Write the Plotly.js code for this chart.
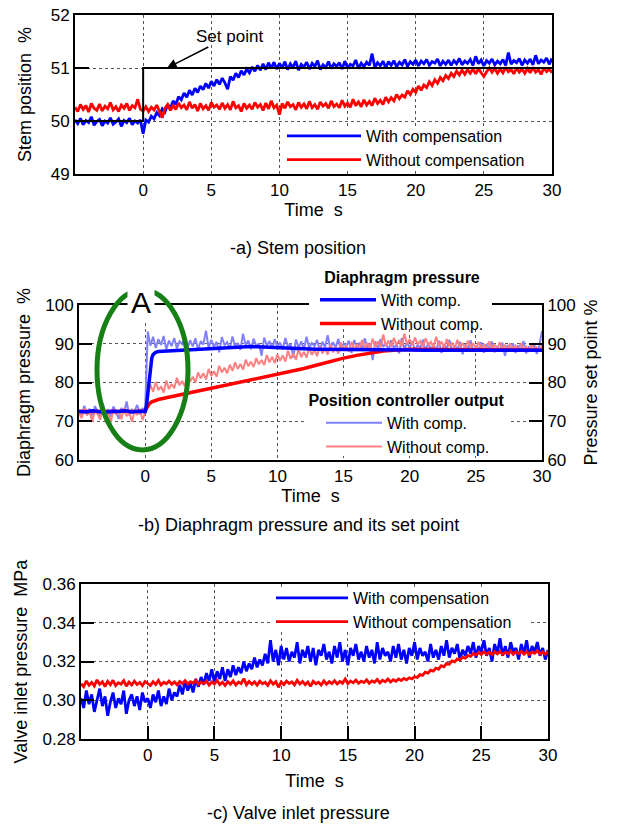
<!DOCTYPE html>
<html><head><meta charset="utf-8">
<script src="https://cdn.plot.ly/plotly-3.0.1.min.js"></script>
<style>html,body{margin:0;padding:0;background:#fff}#chart{width:618px;height:825px}</style>
</head><body><div id="chart"></div>
<script>
// ---- sampling of the recorded signals (seconds) ----
const T0 = -5, DT = 0.2;
const xTicks = [0, 5, 10, 15, 20, 25, 30];

// ---- (a) Stem position, % ----
const stemWith = [
50.02,49.95,50.05,49.93,50.01,49.97,50.08,49.92,49.99,50.03,49.91,50.00,49.96,50.06,49.94,49.98,50.04,49.90,50.01,49.97,50.05,49.93,50.00,49.96,50.02,
49.76,
50.02,49.98,50.09,50.04,50.16,50.10,50.23,50.17,50.31,50.24,
50.38,50.31,50.46,50.40,50.53,50.45,50.58,50.49,50.62,50.54,
50.66,50.59,50.71,50.62,50.75,50.66,50.78,50.69,50.81,50.72,
50.60,50.84,50.77,50.90,50.82,50.95,50.87,50.98,50.91,51.02,
50.94,51.05,50.96,51.08,50.97,51.10,50.99,51.11,50.98,51.09,
51.00,51.12,50.97,51.08,51.01,51.13,50.96,51.07,51.02,51.11,
50.98,51.09,51.03,51.14,50.97,51.06,51.01,51.12,50.99,51.08,
51.03,51.10,50.98,51.13,51.00,51.07,51.04,51.15,50.99,51.09,
51.02,51.11,51.05,51.27,51.01,51.10,51.04,51.13,51.00,51.12,
51.05,51.14,51.02,51.11,51.06,51.16,51.03,51.12,51.07,51.15,
51.04,51.13,51.08,51.16,51.05,51.12,51.09,51.17,51.04,51.13,
51.07,51.15,51.05,51.14,51.08,51.18,51.06,51.13,51.09,51.16,
51.05,51.22,51.08,51.15,51.04,51.14,51.09,51.17,51.06,51.13,
51.08,51.16,51.05,51.29,51.07,51.14,51.10,51.18,51.05,51.15,
51.09,51.17,51.06,51.24,51.08,51.15,51.11,51.19,51.07,51.18];
const stemWithout = [
50.26,50.18,50.31,50.22,50.29,50.17,50.33,50.24,50.20,50.32,50.19,50.28,50.23,50.35,50.21,50.27,50.18,50.30,50.24,50.33,50.20,50.29,50.25,50.41,50.22,
50.19,
50.27,50.18,50.26,50.21,50.30,50.19,50.06,50.24,50.31,50.20,
50.29,50.22,50.34,50.25,50.30,50.21,50.36,50.24,50.31,50.19,
50.33,50.23,50.29,50.20,50.35,50.26,50.30,50.22,50.34,50.24,
50.31,50.21,50.37,50.25,50.29,50.18,50.33,50.24,50.30,50.22,
50.35,50.26,50.31,50.20,50.34,50.23,50.38,50.25,50.30,50.12,
50.33,50.24,50.36,50.27,50.31,50.21,50.35,50.26,50.32,50.23,
50.37,50.25,50.31,50.22,50.36,50.28,50.33,50.24,50.38,50.27,
50.32,50.25,50.39,50.28,50.34,50.26,50.41,50.29,50.36,50.27,
50.40,50.30,50.37,50.29,50.43,50.33,50.39,50.31,50.45,50.36,
50.44,50.38,50.50,50.42,50.49,50.45,50.57,50.50,50.60,50.54,
50.66,50.58,50.68,50.63,50.74,50.67,50.78,50.71,50.82,50.76,
50.86,50.80,50.90,50.84,50.94,50.87,50.96,50.88,50.97,50.90,
50.98,50.89,50.99,50.91,50.84,50.93,51.00,50.92,50.99,50.90,
50.98,50.91,51.01,50.93,50.97,50.89,51.00,50.92,50.98,50.90,
50.99,50.91,51.01,50.92,50.97,50.88,51.00,50.93,50.98,50.91];
const setPointX = [-5, 0, 0, 30];
const setPointY = [50, 50, 51, 51];

// ---- (b) Position controller output (= pressure set point), % ----
const posWith = [
72.8,71.6,74.0,72.1,73.2,70.9,73.9,72.4,71.3,74.6,72.0,73.1,71.2,73.8,72.5,70.6,73.4,72.2,75.1,71.5,73.0,72.6,74.2,71.8,73.3,
73.0,
93.2,89.5,91.8,88.9,91.2,89.7,92.0,88.6,90.8,89.4,
91.5,88.8,90.6,89.9,92.3,88.7,90.9,89.3,91.4,88.5,
90.7,89.8,93.4,88.9,91.0,89.2,90.5,87.8,91.7,89.6,
90.4,88.7,91.9,89.3,90.2,88.4,92.6,89.7,90.8,88.6,
91.3,89.4,90.1,86.9,91.6,89.5,90.7,88.8,91.2,89.1,
90.3,88.6,91.5,89.2,90.0,86.4,91.1,89.0,90.6,88.5,
91.8,88.9,90.2,89.4,91.0,88.3,90.5,89.1,92.2,88.7,
90.4,89.0,91.3,88.2,90.1,89.3,90.8,87.6,91.0,88.9,
90.3,88.4,91.4,89.0,90.0,85.8,90.6,88.7,91.2,89.2,
90.1,88.3,90.9,88.8,89.9,87.5,91.5,88.6,90.2,89.0,
90.7,88.1,89.8,88.9,91.1,87.9,90.3,88.5,89.7,88.2,
90.8,87.6,89.9,88.7,91.0,88.0,89.6,88.4,90.5,87.3,
89.8,88.6,90.9,87.9,89.5,88.3,90.4,87.7,89.9,88.5,
90.6,87.8,89.4,88.2,90.3,86.9,89.7,88.4,90.1,87.6,
89.6,88.3,90.7,87.5,89.3,88.1,90.0,87.4,89.5,93.3];
const posWithout = [
72.1,70.8,73.3,71.5,72.6,69.8,73.0,71.9,70.4,73.6,71.2,72.4,69.6,73.1,71.7,72.8,70.5,73.4,71.3,72.2,69.9,72.7,71.6,73.2,70.3,
72.3,
77.2,79.4,77.6,80.1,78.0,79.0,77.4,80.5,78.3,79.6,
78.5,81.2,79.3,80.4,79.0,82.1,80.2,81.5,80.0,82.6,
81.1,82.4,80.8,83.5,81.7,82.9,81.5,84.3,82.6,83.8,
82.4,84.6,83.0,85.2,83.5,84.8,83.3,85.9,84.2,85.4,
84.0,86.3,84.7,85.8,84.5,87.1,85.2,86.6,85.0,87.3,
85.6,87.0,85.4,88.2,86.1,87.5,85.9,88.6,86.5,87.9,
86.4,89.0,87.1,88.4,86.8,89.5,87.5,88.9,87.2,89.8,
87.8,89.2,87.5,90.3,88.2,89.6,88.0,90.5,88.6,89.9,
88.4,91.0,88.9,90.2,88.7,91.3,89.2,90.6,89.0,92.4,
89.4,90.8,89.1,91.5,89.6,90.9,89.3,92.6,89.8,91.2,
89.5,91.6,89.9,90.7,89.2,91.4,89.7,90.5,89.0,91.8,
89.4,90.6,88.9,91.2,89.3,90.3,88.8,91.0,89.1,90.2,
88.7,90.8,89.0,90.1,88.6,90.5,88.9,89.8,88.4,90.6,
88.8,89.9,88.3,90.4,88.7,89.6,88.2,90.1,88.6,89.5,
88.1,90.2,88.5,89.3,87.9,90.0,88.4,89.1,88.0,89.7];
// ---- (b) Diaphragm pressure, % ----
const diaWithX = [-5,-4.5,-4,-3.5,-3,-2.5,-2,-1.5,-1,-0.5,0,0.1,0.2,0.3,0.4,0.5,0.6,0.8,1,
  1.5,2,2.5,3,3.5,4,4.5,5,5.5,6,6.5,7,7.5,8,8.5,9,9.5,10,
  11,12,13,14,15,16,17,18,19,20,21,22,23,24,25,26,27,28,29,30];
const diaWith = [72.6,72.4,72.7,72.5,72.3,72.6,72.5,72.7,72.4,72.6,72.5,74.0,77.5,81.5,84.5,86.3,87.2,87.8,88.0,
  88.1,88.2,88.2,88.3,88.4,88.5,88.6,88.7,88.9,89.0,89.1,89.2,89.3,89.3,89.2,89.1,89.0,88.9,
  88.8,88.7,88.6,88.6,88.5,88.5,88.4,88.5,88.4,88.4,88.3,88.4,88.3,88.3,88.4,88.3,88.3,88.4,88.3,88.3];
const diaWithoutX = [-5,-4,-3,-2,-1,0,0.1,0.2,0.3,0.5,0.7,1,1.5,2,
  3,4,5,6,7,8,9,10,11,12,13,14,15,16,17,18,19,20,22,24,26,28,30];
const diaWithout = [72.5,72.5,72.5,72.5,72.5,72.6,73.3,74.0,74.5,75.0,75.3,75.6,76.0,76.4,
  77.1,77.8,78.5,79.2,79.9,80.6,81.3,82.0,82.8,83.6,84.5,85.5,86.3,87.0,87.6,88.1,88.4,88.6,88.5,88.4,88.3,88.3,88.3];

// ---- (c) Valve inlet pressure, MPa ----
const valveWith = [
0.301,0.296,0.305,0.298,0.303,0.294,0.300,0.306,0.297,0.302,0.292,0.299,0.304,0.296,0.301,0.298,0.305,0.293,0.300,0.303,0.297,0.302,0.295,0.304,0.299,
0.301,
0.296,0.303,0.299,0.305,0.297,0.302,0.298,0.306,0.300,0.304,
0.302,0.308,0.303,0.310,0.305,0.309,0.304,0.311,0.307,0.312,
0.308,0.314,0.310,0.316,0.309,0.315,0.311,0.317,0.310,0.316,
0.312,0.318,0.313,0.317,0.314,0.320,0.315,0.319,0.316,0.322,
0.317,0.321,0.318,0.324,0.319,0.331,0.320,0.326,0.318,0.328,
0.321,0.327,0.320,0.325,0.322,0.330,0.319,0.326,0.322,0.328,
0.320,0.327,0.318,0.326,0.323,0.329,0.321,0.325,0.319,0.328,
0.322,0.330,0.320,0.326,0.318,0.327,0.323,0.329,0.321,0.325,
0.320,0.328,0.322,0.326,0.319,0.330,0.321,0.327,0.323,0.325,
0.320,0.328,0.322,0.329,0.321,0.326,0.319,0.327,0.323,0.330,
0.321,0.327,0.323,0.325,0.320,0.329,0.322,0.326,0.321,0.328,
0.323,0.331,0.322,0.327,0.324,0.329,0.321,0.326,0.323,0.328,
0.324,0.330,0.322,0.328,0.325,0.331,0.323,0.327,0.320,0.329,
0.324,0.332,0.323,0.328,0.322,0.330,0.325,0.327,0.321,0.329,
0.324,0.331,0.322,0.328,0.325,0.330,0.323,0.327,0.321,0.326];
const valveWithout = [
0.3085,0.3070,0.3100,0.3078,0.3092,0.3074,0.3105,0.3082,0.3095,0.3071,0.3098,0.3080,0.3103,0.3076,0.3090,0.3083,0.3101,0.3073,0.3094,0.3079,0.3099,0.3081,0.3092,0.3075,0.3097,
0.3084,
0.3076,0.3096,0.3081,0.3102,0.3079,0.3093,0.3085,0.3099,0.3083,0.3095,
0.3080,0.3097,0.3086,0.3101,0.3084,0.3096,0.3089,0.3103,0.3082,0.3094,
0.3086,0.3099,0.3078,0.3095,0.3084,0.3102,0.3081,0.3093,0.3076,0.3096,
0.3083,0.3100,0.3079,0.3094,0.3086,0.3112,0.3080,0.3097,0.3082,0.3095,
0.3078,0.3098,0.3085,0.3093,0.3077,0.3101,0.3083,0.3096,0.3067,0.3094,
0.3081,0.3099,0.3086,0.3095,0.3079,0.3103,0.3084,0.3097,0.3080,0.3094,
0.3072,0.3098,0.3085,0.3093,0.3079,0.3100,0.3083,0.3096,0.3086,0.3101,
0.3084,0.3097,0.3088,0.3110,0.3085,0.3099,0.3090,0.3104,0.3087,0.3098,
0.3091,0.3105,0.3088,0.3100,0.3093,0.3108,0.3090,0.3103,0.3095,0.3109,
0.3094,0.3106,0.3098,0.3110,0.3102,0.3113,0.3105,0.3116,0.3110,0.3121,
0.3118,0.3132,0.3128,0.3145,0.3140,0.3155,0.3150,0.3166,0.3160,0.3178,
0.3173,0.3190,0.3186,0.3203,0.3198,0.3213,0.3208,0.3222,0.3217,0.3231,
0.3226,0.3241,0.3233,0.3247,0.3236,0.3250,0.3238,0.3249,0.3235,0.3251,
0.3239,0.3252,0.3236,0.3248,0.3240,0.3254,0.3237,0.3250,0.3241,0.3253,
0.3238,0.3251,0.3236,0.3249,0.3242,0.3255,0.3239,0.3250,0.3237,0.3252];

// ---- layout helpers (pixel boxes -> paper fractions) ----
const W = 618, H = 825;
const hx = (a, b) => [a / W, b / W];
const vy = (top, bottom) => [1 - bottom / H, 1 - top / H];
const FONT = '"Liberation Sans", Arial, Helvetica, sans-serif';
const BLUE = '#0000ff', RED = '#ff0000', LBLUE = '#8080ff', LRED = '#ff8080';
const NOISE_W = 2.8;

const xBase = {
  range: [-5, 30], tickmode: 'array', tickvals: xTicks, ticktext: xTicks.map(String),
  showgrid: true, gridcolor: '#555', griddash: 'dot', gridwidth: 1, zeroline: false,
  showline: true, linecolor: '#000', linewidth: 2, mirror: true,
  tickfont: {size: 17, color: '#000'}, ticks: '',
  title: {text: 'Time\u00a0\u00a0s', font: {size: 18, color: '#000'}, standoff: 4}
};
const yBase = {
  showgrid: true, gridcolor: '#555', griddash: 'dot', gridwidth: 1, zeroline: false,
  showline: true, linecolor: '#000', linewidth: 2, mirror: true,
  ticks: 'inside', ticklen: 14, tickwidth: 2, tickcolor: '#000',
  tickfont: {size: 17, color: '#000'}
};

const traces = [
  {x0: T0, dx: DT, y: stemWith, xaxis: 'x', yaxis: 'y', type: 'scatter', mode: 'lines',
   line: {color: BLUE, width: NOISE_W}, name: 'With compensation', legend: 'legend'},
  {x0: T0, dx: DT, y: stemWithout, xaxis: 'x', yaxis: 'y', type: 'scatter', mode: 'lines',
   line: {color: RED, width: NOISE_W}, name: 'Without compensation', legend: 'legend'},
  {x: setPointX, y: setPointY, xaxis: 'x', yaxis: 'y', type: 'scatter', mode: 'lines',
   line: {color: '#000', width: 2}, name: 'Set point', showlegend: false},

  // position controller output = pressure set point (right axis, drawn underneath)
  {x0: T0, dx: DT, y: posWith, xaxis: 'x2', yaxis: 'y2', type: 'scatter', mode: 'lines',
   line: {color: LBLUE, width: 2}, name: 'With comp.', legend: 'legend4'},
  {x0: T0, dx: DT, y: posWithout, xaxis: 'x2', yaxis: 'y2', type: 'scatter', mode: 'lines',
   line: {color: LRED, width: 2}, name: 'Without comp.', legend: 'legend4'},
  // diaphragm pressure (left axis, drawn on top)
  {x: diaWithoutX, y: diaWithout, xaxis: 'x2', yaxis: 'y4', type: 'scatter', mode: 'lines',
   line: {color: RED, width: 3.5}, name: 'Without comp.', legend: 'legend3', legendrank: 2},
  {x: diaWithX, y: diaWith, xaxis: 'x2', yaxis: 'y4', type: 'scatter', mode: 'lines',
   line: {color: BLUE, width: 3.5}, name: 'With comp.', legend: 'legend3', legendrank: 1},

  {x0: T0, dx: DT, y: valveWith, xaxis: 'x3', yaxis: 'y3', type: 'scatter', mode: 'lines',
   line: {color: BLUE, width: NOISE_W}, name: 'With compensation', legend: 'legend2'},
  {x0: T0, dx: DT, y: valveWithout, xaxis: 'x3', yaxis: 'y3', type: 'scatter', mode: 'lines',
   line: {color: RED, width: NOISE_W}, name: 'Without compensation', legend: 'legend2'}
];

const legBase = {bgcolor: 'rgba(0,0,0,0)', borderwidth: 0, font: {size: 16, color: '#000'},
  xanchor: 'left', yanchor: 'top', tracegroupgap: 0};

// white panels that sit behind each legend (they hide grid and frame, as in the original figure)
const legendBack = (l, t, r, b) => ({type: 'rect', xref: 'paper', yref: 'paper',
  x0: l / W, x1: r / W, y0: 1 - b / H, y1: 1 - t / H, fillcolor: '#fff', line: {width: 0}, layer: 'above'});

const layout = {
  width: W, height: H, margin: {l: 0, r: 0, t: 0, b: 0},
  paper_bgcolor: '#fff', plot_bgcolor: '#fff',
  font: {family: FONT, color: '#000'},
  showlegend: true,
  xaxis: Object.assign({}, xBase, {domain: hx(75, 552), anchor: 'y'}),
  yaxis: Object.assign({}, yBase, {domain: vy(15, 174), anchor: 'x', range: [49, 52], dtick: 1,
    title: {text: 'Stem position\u00a0\u00a0%', font: {size: 18}, standoff: 14}}),

  xaxis2: Object.assign({}, xBase, {domain: hx(79, 542), anchor: 'y2'}),
  yaxis2: Object.assign({}, yBase, {domain: vy(305, 460), anchor: 'x2', side: 'right',
    range: [60, 100], dtick: 10, ticklen: 13,
    title: {text: 'Pressure set point %', font: {size: 18}, standoff: 10}}),
  yaxis4: Object.assign({}, yBase, {domain: vy(305, 460), anchor: 'x2', overlaying: 'y2', side: 'left',
    range: [60, 100], dtick: 10, ticklen: 13, showgrid: false, mirror: false,
    title: {text: 'Diaphragm pressure\u00a0\u00a0%', font: {size: 18}, standoff: 10}}),

  xaxis3: Object.assign({}, xBase, {domain: hx(81, 548), anchor: 'y3', ticks: 'inside', ticklen: 13,
    tickwidth: 2, tickcolor: '#000',
    title: {text: 'Time\u00a0\u00a0s', font: {size: 18, color: '#000'}, standoff: 10}}),
  yaxis3: Object.assign({}, yBase, {domain: vy(584, 739), anchor: 'x3', range: [0.28, 0.36], dtick: 0.02,
    tickformat: '.2f', ticklen: 13,
    title: {text: 'Valve inlet pressure\u00a0\u00a0MPa', font: {size: 18}, standoff: 10}}),

  legend: Object.assign({}, legBase, {x: 282 / W, y: 1 - 119 / H, itemwidth: 74}),
  legend2: Object.assign({}, legBase, {x: 271 / W, y: 1 - 581 / H, itemwidth: 72}),
  legend3: Object.assign({}, legBase, {x: 315 / W, y: 1 - 262 / H, itemwidth: 56,
    title: {text: '<b>Diaphragm pressure</b>', side: 'top center', font: {size: 16}}}),
  legend4: Object.assign({}, legBase, {x: 306 / W, y: 1 - 385 / H, itemwidth: 56, indentation: 15,
    title: {text: '<b>Position controller output</b>', side: 'top center', font: {size: 16}}}),

  shapes: [
    legendBack(283, 128, 540, 168),
    legendBack(271, 588, 530, 630),
    legendBack(309, 266, 492, 329),
    legendBack(306, 388, 508, 456),
    {type: 'circle', xref: 'paper', yref: 'paper', x0: 97 / W, x1: 188 / W, y0: 1 - 450 / H, y1: 1 - 290 / H,
     line: {color: '#168016', width: 5}, layer: 'above'}
  ],
  annotations: [
    {xref: 'x', yref: 'y', x: 1.75, y: 51, ax: 63, ay: -32, text: 'Set point', showarrow: true,
     arrowhead: 2, arrowsize: 1.3, arrowwidth: 1.5, arrowcolor: '#000', font: {size: 17}},
    {xref: 'paper', yref: 'paper', x: 141 / W, y: 1 - 303 / H, xanchor: 'center', yanchor: 'middle',
     text: 'A', showarrow: false, font: {size: 30, color: '#000'}, bgcolor: '#fff', borderpad: 3},
    {xref: 'paper', yref: 'paper', x: 298 / W, y: 1 - 248 / H, xanchor: 'center', yanchor: 'middle',
     text: '-a) Stem position', showarrow: false, font: {size: 18}},
    {xref: 'paper', yref: 'paper', x: 298 / W, y: 1 - 525 / H, xanchor: 'center', yanchor: 'middle',
     text: '-b) Diaphragm pressure and its set point', showarrow: false, font: {size: 18}},
    {xref: 'paper', yref: 'paper', x: 298 / W, y: 1 - 813 / H, xanchor: 'center', yanchor: 'middle',
     text: '-c) Valve inlet pressure', showarrow: false, font: {size: 18}}
  ]
};

Plotly.newPlot('chart', traces, layout, {staticPlot: true, displayModeBar: false});
</script>
</body></html>
